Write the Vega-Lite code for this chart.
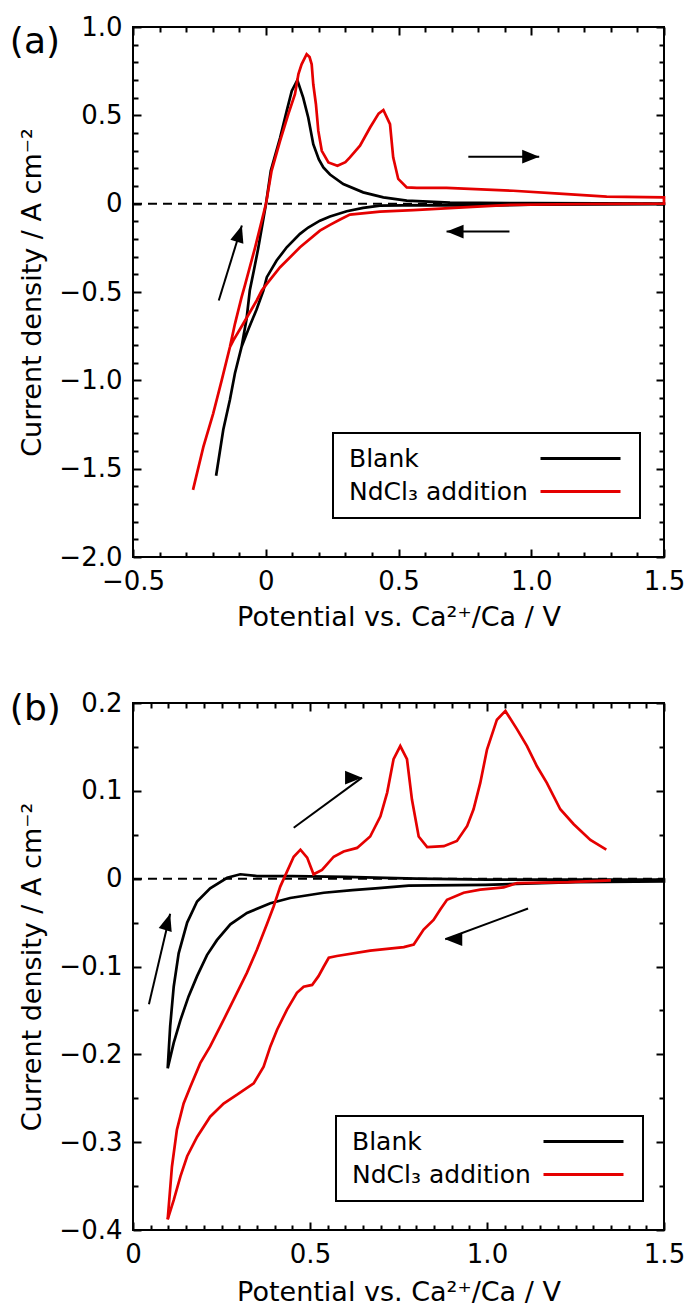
{
"$schema": "https://vega.github.io/schema/vega-lite/v6.json",
"padding": {"left": 8, "top": 13, "right": 5, "bottom": 5},
"spacing": 58,
"datasets": {
"a_curves": [
{"s":"Blank","p":1,"i":0,"x":-0.187,"y":-1.54},{"s":"Blank","p":1,"i":1,"x":-0.160,"y":-1.28},{"s":"Blank","p":1,"i":2,"x":-0.135,"y":-1.11},{"s":"Blank","p":1,"i":3,"x":-0.116,"y":-0.96},{"s":"Blank","p":1,"i":4,"x":-0.091,"y":-0.81},{"s":"Blank","p":1,"i":5,"x":-0.072,"y":-0.65},{"s":"Blank","p":1,"i":6,"x":-0.060,"y":-0.49},{"s":"Blank","p":1,"i":7,"x":-0.045,"y":-0.38},{"s":"Blank","p":1,"i":8,"x":-0.028,"y":-0.25},{"s":"Blank","p":1,"i":9,"x":0.001,"y":0.0},{"s":"Blank","p":1,"i":10,"x":0.019,"y":0.186},{"s":"Blank","p":1,"i":11,"x":0.054,"y":0.373},{"s":"Blank","p":1,"i":12,"x":0.079,"y":0.525},{"s":"Blank","p":1,"i":13,"x":0.098,"y":0.638},{"s":"Blank","p":1,"i":14,"x":0.119,"y":0.699},{"s":"Blank","p":1,"i":15,"x":0.141,"y":0.600},{"s":"Blank","p":1,"i":16,"x":0.160,"y":0.488},{"s":"Blank","p":1,"i":17,"x":0.179,"y":0.337},{"s":"Blank","p":1,"i":18,"x":0.200,"y":0.250},{"s":"Blank","p":1,"i":19,"x":0.217,"y":0.205},{"s":"Blank","p":1,"i":20,"x":0.242,"y":0.165},{"s":"Blank","p":1,"i":21,"x":0.292,"y":0.111},{"s":"Blank","p":1,"i":22,"x":0.367,"y":0.064},{"s":"Blank","p":1,"i":23,"x":0.443,"y":0.036},{"s":"Blank","p":1,"i":24,"x":0.531,"y":0.017},{"s":"Blank","p":1,"i":25,"x":0.694,"y":0.006},{"s":"Blank","p":1,"i":26,"x":1.0,"y":0.003},{"s":"Blank","p":1,"i":27,"x":1.5,"y":0.001},
{"s":"Blank","p":1,"i":28,"x":1.5,"y":-0.003},{"s":"Blank","p":1,"i":29,"x":1.0,"y":-0.006},{"s":"Blank","p":1,"i":30,"x":0.79,"y":-0.011},{"s":"Blank","p":1,"i":31,"x":0.6,"y":-0.008},{"s":"Blank","p":1,"i":32,"x":0.430,"y":-0.011},{"s":"Blank","p":1,"i":33,"x":0.367,"y":-0.024},{"s":"Blank","p":1,"i":34,"x":0.305,"y":-0.043},{"s":"Blank","p":1,"i":35,"x":0.242,"y":-0.073},{"s":"Blank","p":1,"i":36,"x":0.204,"y":-0.096},{"s":"Blank","p":1,"i":37,"x":0.160,"y":-0.135},{"s":"Blank","p":1,"i":38,"x":0.129,"y":-0.171},{"s":"Blank","p":1,"i":39,"x":0.079,"y":-0.247},{"s":"Blank","p":1,"i":40,"x":0.041,"y":-0.322},{"s":"Blank","p":1,"i":41,"x":0.004,"y":-0.416},{"s":"Blank","p":1,"i":42,"x":-0.009,"y":-0.492},{"s":"Blank","p":1,"i":43,"x":-0.035,"y":-0.60},{"s":"Blank","p":1,"i":44,"x":-0.065,"y":-0.71},{"s":"Blank","p":1,"i":45,"x":-0.091,"y":-0.81},{"s":"Blank","p":1,"i":46,"x":-0.116,"y":-0.96},{"s":"Blank","p":1,"i":47,"x":-0.135,"y":-1.11},{"s":"Blank","p":1,"i":48,"x":-0.160,"y":-1.28},{"s":"Blank","p":1,"i":49,"x":-0.187,"y":-1.54},
{"s":"NdCl₃ addition","p":1,"i":0,"x":-0.274,"y":-1.62},{"s":"NdCl₃ addition","p":1,"i":1,"x":-0.235,"y":-1.377},{"s":"NdCl₃ addition","p":1,"i":2,"x":-0.198,"y":-1.188},{"s":"NdCl₃ addition","p":1,"i":3,"x":-0.166,"y":-1.0},{"s":"NdCl₃ addition","p":1,"i":4,"x":-0.135,"y":-0.812},{"s":"NdCl₃ addition","p":1,"i":5,"x":-0.116,"y":-0.680},{"s":"NdCl₃ addition","p":1,"i":6,"x":-0.091,"y":-0.529},{"s":"NdCl₃ addition","p":1,"i":7,"x":-0.078,"y":-0.46},{"s":"NdCl₃ addition","p":1,"i":8,"x":-0.040,"y":-0.247},{"s":"NdCl₃ addition","p":1,"i":9,"x":0.001,"y":0.0},{"s":"NdCl₃ addition","p":1,"i":10,"x":0.022,"y":0.186},{"s":"NdCl₃ addition","p":1,"i":11,"x":0.054,"y":0.356},{"s":"NdCl₃ addition","p":1,"i":12,"x":0.085,"y":0.507},{"s":"NdCl₃ addition","p":1,"i":13,"x":0.110,"y":0.620},{"s":"NdCl₃ addition","p":1,"i":14,"x":0.123,"y":0.733},{"s":"NdCl₃ addition","p":1,"i":15,"x":0.135,"y":0.789},{"s":"NdCl₃ addition","p":1,"i":16,"x":0.154,"y":0.846},{"s":"NdCl₃ addition","p":1,"i":17,"x":0.165,"y":0.83},{"s":"NdCl₃ addition","p":1,"i":18,"x":0.173,"y":0.789},{"s":"NdCl₃ addition","p":1,"i":19,"x":0.179,"y":0.676},{"s":"NdCl₃ addition","p":1,"i":20,"x":0.189,"y":0.563},{"s":"NdCl₃ addition","p":1,"i":21,"x":0.198,"y":0.412},{"s":"NdCl₃ addition","p":1,"i":22,"x":0.211,"y":0.299},{"s":"NdCl₃ addition","p":1,"i":23,"x":0.236,"y":0.233},{"s":"NdCl₃ addition","p":1,"i":24,"x":0.270,"y":0.215},{"s":"NdCl₃ addition","p":1,"i":25,"x":0.300,"y":0.235},{"s":"NdCl₃ addition","p":1,"i":26,"x":0.317,"y":0.262},{"s":"NdCl₃ addition","p":1,"i":27,"x":0.355,"y":0.328},{"s":"NdCl₃ addition","p":1,"i":28,"x":0.393,"y":0.431},{"s":"NdCl₃ addition","p":1,"i":29,"x":0.425,"y":0.51},{"s":"NdCl₃ addition","p":1,"i":30,"x":0.443,"y":0.53},{"s":"NdCl₃ addition","p":1,"i":31,"x":0.468,"y":0.450},{"s":"NdCl₃ addition","p":1,"i":32,"x":0.480,"y":0.262},{"s":"NdCl₃ addition","p":1,"i":33,"x":0.499,"y":0.140},{"s":"NdCl₃ addition","p":1,"i":34,"x":0.531,"y":0.092},{"s":"NdCl₃ addition","p":1,"i":35,"x":0.569,"y":0.089},{"s":"NdCl₃ addition","p":1,"i":36,"x":0.681,"y":0.089},{"s":"NdCl₃ addition","p":1,"i":37,"x":0.932,"y":0.073},{"s":"NdCl₃ addition","p":1,"i":38,"x":1.12,"y":0.055},{"s":"NdCl₃ addition","p":1,"i":39,"x":1.284,"y":0.040},{"s":"NdCl₃ addition","p":1,"i":40,"x":1.5,"y":0.036},
{"s":"NdCl₃ addition","p":1,"i":41,"x":1.5,"y":0.0},{"s":"NdCl₃ addition","p":1,"i":42,"x":1.2,"y":-0.002},{"s":"NdCl₃ addition","p":1,"i":43,"x":0.920,"y":-0.007},{"s":"NdCl₃ addition","p":1,"i":44,"x":0.744,"y":-0.021},{"s":"NdCl₃ addition","p":1,"i":45,"x":0.556,"y":-0.036},{"s":"NdCl₃ addition","p":1,"i":46,"x":0.430,"y":-0.045},{"s":"NdCl₃ addition","p":1,"i":47,"x":0.317,"y":-0.062},{"s":"NdCl₃ addition","p":1,"i":48,"x":0.280,"y":-0.090},{"s":"NdCl₃ addition","p":1,"i":49,"x":0.242,"y":-0.120},{"s":"NdCl₃ addition","p":1,"i":50,"x":0.204,"y":-0.153},{"s":"NdCl₃ addition","p":1,"i":51,"x":0.129,"y":-0.247},{"s":"NdCl₃ addition","p":1,"i":52,"x":0.054,"y":-0.360},{"s":"NdCl₃ addition","p":1,"i":53,"x":0.004,"y":-0.454},{"s":"NdCl₃ addition","p":1,"i":54,"x":-0.015,"y":-0.492},{"s":"NdCl₃ addition","p":1,"i":55,"x":-0.034,"y":-0.548},{"s":"NdCl₃ addition","p":1,"i":56,"x":-0.085,"y":-0.680},{"s":"NdCl₃ addition","p":1,"i":57,"x":-0.122,"y":-0.774},{"s":"NdCl₃ addition","p":1,"i":58,"x":-0.135,"y":-0.812},{"s":"NdCl₃ addition","p":1,"i":59,"x":-0.166,"y":-1.0},{"s":"NdCl₃ addition","p":1,"i":60,"x":-0.198,"y":-1.188},{"s":"NdCl₃ addition","p":1,"i":61,"x":-0.235,"y":-1.377},{"s":"NdCl₃ addition","p":1,"i":62,"x":-0.274,"y":-1.62}
],
"b_curves": [
{"s":"Blank","p":1,"i":0,"x":0.098,"y":-0.216},{"s":"Blank","p":1,"i":1,"x":0.105,"y":-0.168},{"s":"Blank","p":1,"i":2,"x":0.115,"y":-0.123},{"s":"Blank","p":1,"i":3,"x":0.129,"y":-0.085},{"s":"Blank","p":1,"i":4,"x":0.153,"y":-0.050},{"s":"Blank","p":1,"i":5,"x":0.181,"y":-0.026},{"s":"Blank","p":1,"i":6,"x":0.218,"y":-0.011},{"s":"Blank","p":1,"i":7,"x":0.266,"y":0.001},{"s":"Blank","p":1,"i":8,"x":0.303,"y":0.005},{"s":"Blank","p":1,"i":9,"x":0.350,"y":0.003},{"s":"Blank","p":1,"i":10,"x":0.45,"y":0.003},{"s":"Blank","p":1,"i":11,"x":0.6,"y":0.002},{"s":"Blank","p":1,"i":12,"x":0.8,"y":0.0},{"s":"Blank","p":1,"i":13,"x":1.0,"y":-0.001},{"s":"Blank","p":1,"i":14,"x":1.5,"y":-0.001},
{"s":"Blank","p":1,"i":15,"x":1.5,"y":-0.003},{"s":"Blank","p":1,"i":16,"x":1.25,"y":-0.004},{"s":"Blank","p":1,"i":17,"x":0.995,"y":-0.007},{"s":"Blank","p":1,"i":18,"x":0.779,"y":-0.008},{"s":"Blank","p":1,"i":19,"x":0.685,"y":-0.011},{"s":"Blank","p":1,"i":20,"x":0.62,"y":-0.013},{"s":"Blank","p":1,"i":21,"x":0.539,"y":-0.016},{"s":"Blank","p":1,"i":22,"x":0.444,"y":-0.022},{"s":"Blank","p":1,"i":23,"x":0.388,"y":-0.028},{"s":"Blank","p":1,"i":24,"x":0.322,"y":-0.039},{"s":"Blank","p":1,"i":25,"x":0.275,"y":-0.052},{"s":"Blank","p":1,"i":26,"x":0.237,"y":-0.070},{"s":"Blank","p":1,"i":27,"x":0.209,"y":-0.087},{"s":"Blank","p":1,"i":28,"x":0.181,"y":-0.111},{"s":"Blank","p":1,"i":29,"x":0.157,"y":-0.134},{"s":"Blank","p":1,"i":30,"x":0.134,"y":-0.161},{"s":"Blank","p":1,"i":31,"x":0.115,"y":-0.187},{"s":"Blank","p":1,"i":32,"x":0.098,"y":-0.216},
{"s":"NdCl₃ addition","p":1,"i":0,"x":0.098,"y":-0.388},{"s":"NdCl₃ addition","p":1,"i":1,"x":0.110,"y":-0.328},{"s":"NdCl₃ addition","p":1,"i":2,"x":0.124,"y":-0.286},{"s":"NdCl₃ addition","p":1,"i":3,"x":0.143,"y":-0.256},{"s":"NdCl₃ addition","p":1,"i":4,"x":0.162,"y":-0.237},{"s":"NdCl₃ addition","p":1,"i":5,"x":0.190,"y":-0.210},{"s":"NdCl₃ addition","p":1,"i":6,"x":0.218,"y":-0.191},{"s":"NdCl₃ addition","p":1,"i":7,"x":0.247,"y":-0.168},{"s":"NdCl₃ addition","p":1,"i":8,"x":0.284,"y":-0.138},{"s":"NdCl₃ addition","p":1,"i":9,"x":0.322,"y":-0.107},{"s":"NdCl₃ addition","p":1,"i":10,"x":0.350,"y":-0.081},{"s":"NdCl₃ addition","p":1,"i":11,"x":0.379,"y":-0.051},{"s":"NdCl₃ addition","p":1,"i":12,"x":0.397,"y":-0.032},{"s":"NdCl₃ addition","p":1,"i":13,"x":0.416,"y":-0.009},{"s":"NdCl₃ addition","p":1,"i":14,"x":0.435,"y":0.008},{"s":"NdCl₃ addition","p":1,"i":15,"x":0.454,"y":0.025},{"s":"NdCl₃ addition","p":1,"i":16,"x":0.473,"y":0.033},{"s":"NdCl₃ addition","p":1,"i":17,"x":0.492,"y":0.024},{"s":"NdCl₃ addition","p":1,"i":18,"x":0.510,"y":0.005},{"s":"NdCl₃ addition","p":1,"i":19,"x":0.534,"y":0.010},{"s":"NdCl₃ addition","p":1,"i":20,"x":0.567,"y":0.025},{"s":"NdCl₃ addition","p":1,"i":21,"x":0.595,"y":0.031},{"s":"NdCl₃ addition","p":1,"i":22,"x":0.633,"y":0.035},{"s":"NdCl₃ addition","p":1,"i":23,"x":0.670,"y":0.048},{"s":"NdCl₃ addition","p":1,"i":24,"x":0.699,"y":0.071},{"s":"NdCl₃ addition","p":1,"i":25,"x":0.718,"y":0.098},{"s":"NdCl₃ addition","p":1,"i":26,"x":0.736,"y":0.136},{"s":"NdCl₃ addition","p":1,"i":27,"x":0.755,"y":0.151},{"s":"NdCl₃ addition","p":1,"i":28,"x":0.774,"y":0.136},{"s":"NdCl₃ addition","p":1,"i":29,"x":0.788,"y":0.090},{"s":"NdCl₃ addition","p":1,"i":30,"x":0.807,"y":0.048},{"s":"NdCl₃ addition","p":1,"i":31,"x":0.831,"y":0.036},{"s":"NdCl₃ addition","p":1,"i":32,"x":0.878,"y":0.037},{"s":"NdCl₃ addition","p":1,"i":33,"x":0.915,"y":0.043},{"s":"NdCl₃ addition","p":1,"i":34,"x":0.944,"y":0.060},{"s":"NdCl₃ addition","p":1,"i":35,"x":0.962,"y":0.079},{"s":"NdCl₃ addition","p":1,"i":36,"x":0.981,"y":0.109},{"s":"NdCl₃ addition","p":1,"i":37,"x":1.0,"y":0.147},{"s":"NdCl₃ addition","p":1,"i":38,"x":1.028,"y":0.181},{"s":"NdCl₃ addition","p":1,"i":39,"x":1.052,"y":0.191},{"s":"NdCl₃ addition","p":1,"i":40,"x":1.085,"y":0.170},{"s":"NdCl₃ addition","p":1,"i":41,"x":1.113,"y":0.151},{"s":"NdCl₃ addition","p":1,"i":42,"x":1.141,"y":0.128},{"s":"NdCl₃ addition","p":1,"i":43,"x":1.169,"y":0.109},{"s":"NdCl₃ addition","p":1,"i":44,"x":1.207,"y":0.079},{"s":"NdCl₃ addition","p":1,"i":45,"x":1.245,"y":0.062},{"s":"NdCl₃ addition","p":1,"i":46,"x":1.292,"y":0.044},{"s":"NdCl₃ addition","p":1,"i":47,"x":1.337,"y":0.033},
{"s":"NdCl₃ addition","p":2,"i":48,"x":1.35,"y":-0.002},{"s":"NdCl₃ addition","p":2,"i":49,"x":1.23,"y":-0.004},{"s":"NdCl₃ addition","p":2,"i":50,"x":1.085,"y":-0.005},{"s":"NdCl₃ addition","p":2,"i":51,"x":1.047,"y":-0.010},{"s":"NdCl₃ addition","p":2,"i":52,"x":0.981,"y":-0.0125},{"s":"NdCl₃ addition","p":2,"i":53,"x":0.934,"y":-0.016},{"s":"NdCl₃ addition","p":2,"i":54,"x":0.887,"y":-0.024},{"s":"NdCl₃ addition","p":2,"i":55,"x":0.868,"y":-0.035},{"s":"NdCl₃ addition","p":2,"i":56,"x":0.849,"y":-0.047},{"s":"NdCl₃ addition","p":2,"i":57,"x":0.821,"y":-0.058},{"s":"NdCl₃ addition","p":2,"i":58,"x":0.793,"y":-0.075},{"s":"NdCl₃ addition","p":2,"i":59,"x":0.765,"y":-0.078},{"s":"NdCl₃ addition","p":2,"i":60,"x":0.670,"y":-0.082},{"s":"NdCl₃ addition","p":2,"i":61,"x":0.576,"y":-0.088},{"s":"NdCl₃ addition","p":2,"i":62,"x":0.553,"y":-0.090},{"s":"NdCl₃ addition","p":2,"i":63,"x":0.539,"y":-0.100},{"s":"NdCl₃ addition","p":2,"i":64,"x":0.524,"y":-0.111},{"s":"NdCl₃ addition","p":2,"i":65,"x":0.506,"y":-0.121},{"s":"NdCl₃ addition","p":2,"i":66,"x":0.482,"y":-0.123},{"s":"NdCl₃ addition","p":2,"i":67,"x":0.463,"y":-0.130},{"s":"NdCl₃ addition","p":2,"i":68,"x":0.435,"y":-0.149},{"s":"NdCl₃ addition","p":2,"i":69,"x":0.407,"y":-0.172},{"s":"NdCl₃ addition","p":2,"i":70,"x":0.388,"y":-0.191},{"s":"NdCl₃ addition","p":2,"i":71,"x":0.369,"y":-0.214},{"s":"NdCl₃ addition","p":2,"i":72,"x":0.341,"y":-0.233},{"s":"NdCl₃ addition","p":2,"i":73,"x":0.294,"y":-0.246},{"s":"NdCl₃ addition","p":2,"i":74,"x":0.256,"y":-0.256},{"s":"NdCl₃ addition","p":2,"i":75,"x":0.218,"y":-0.271},{"s":"NdCl₃ addition","p":2,"i":76,"x":0.181,"y":-0.294},{"s":"NdCl₃ addition","p":2,"i":77,"x":0.153,"y":-0.316},{"s":"NdCl₃ addition","p":2,"i":78,"x":0.134,"y":-0.339},{"s":"NdCl₃ addition","p":2,"i":79,"x":0.115,"y":-0.366},{"s":"NdCl₃ addition","p":2,"i":80,"x":0.098,"y":-0.388}
],
"a_arrows": [
{"id":"a1","x":-0.177,"y":-0.548,"x2":-0.090,"y2":-0.124},
{"id":"a2","x":0.763,"y":0.266,"x2":1.03,"y2":0.266},
{"id":"a3","x":0.918,"y":-0.158,"x2":0.681,"y2":-0.158}
],
"b_arrows": [
{"id":"b1","x":0.045,"y":-0.143,"x2":0.105,"y2":-0.040},
{"id":"b2","x":0.454,"y":0.058,"x2":0.647,"y2":0.115},
{"id":"b3","x":1.116,"y":-0.034,"x2":0.882,"y2":-0.069}
]
},
"resolve": {"scale": {"color": "independent"}, "legend": {"color": "independent"}},
"vconcat": [
{
"title": {"text": "(a)", "anchor": "start", "frame": "bounds", "fontSize": 36, "fontWeight": "normal", "offset": -47, "dx": -9},
"width": 531, "height": 530,
"layer": [
{
"data": {"values": [{}]},
"mark": {"type": "rule", "strokeDash": [9, 6], "strokeWidth": 2, "color": "black"},
"encoding": {
"x": {"datum": -0.5, "type": "quantitative", "scale": {"domain": [-0.5, 1.5], "nice": false, "zero": false},
"axis": {"orient": "top", "values": [-0.4,-0.3,-0.2,-0.1,0.1,0.2,0.3,0.4,0.6,0.7,0.8,0.9,1.1,1.2,1.3,1.4], "offset": -5, "tickSize": 5, "labels": false, "title": null}},
"x2": {"datum": 1.5},
"y": {"datum": 0, "type": "quantitative", "scale": {"domain": [-2, 1], "nice": false, "zero": false},
"axis": {"orient": "right", "values": [-1.9,-1.8,-1.7,-1.6,-1.4,-1.3,-1.2,-1.1,-0.9,-0.8,-0.7,-0.6,-0.4,-0.3,-0.2,-0.1,0.1,0.2,0.3,0.4,0.6,0.7,0.8,0.9], "offset": -5, "tickSize": 5, "labels": false, "title": null}}
}
},
{
"data": {"name": "a_curves"},
"mark": {"type": "line", "strokeWidth": 2.7},
"encoding": {
"x": {"field": "x", "type": "quantitative", "scale": {"domain": [-0.5, 1.5], "nice": false, "zero": false},
"axis": {"orient": "bottom", "values": [-0.5, 0, 0.5, 1, 1.5], "offset": -8, "tickSize": 8, "labelPadding": 11, "labelExpr": "datum.value == 0 ? '0' : format(datum.value, '.1f')", "title": "Potential vs. Ca²⁺/Ca / V", "titlePadding": 10}},
"y": {"field": "y", "type": "quantitative", "scale": {"domain": [-2, 1], "nice": false, "zero": false},
"axis": {"orient": "left", "values": [-2, -1.5, -1, -0.5, 0, 0.5, 1], "offset": -8, "tickSize": 8, "labelPadding": 11, "labelExpr": "datum.value == 0 ? '0' : format(datum.value, '.1f')", "title": "Current density / A cm⁻²", "titlePadding": 12}},
"color": {"field": "s", "type": "nominal", "scale": {"domain": ["Blank", "NdCl₃ addition"], "range": ["black", "#e50000"]},
"legend": {"orient": "none", "legendX": 200, "legendY": 406}},
"detail": {"field": "p", "type": "nominal"},
"order": {"field": "i", "type": "quantitative"}
}
},
{
"data": {"name": "a_arrows"},
"mark": {"type": "rule", "strokeWidth": 2, "color": "black"},
"encoding": {
"x": {"field": "x", "type": "quantitative", "scale": {"domain": [-0.5, 1.5], "nice": false, "zero": false},
"axis": {"orient": "bottom", "values": [-0.4,-0.3,-0.2,-0.1,0.1,0.2,0.3,0.4,0.6,0.7,0.8,0.9,1.1,1.2,1.3,1.4], "offset": -5, "tickSize": 5, "labels": false, "title": null}},
"x2": {"field": "x2"},
"y": {"field": "y", "type": "quantitative", "scale": {"domain": [-2, 1], "nice": false, "zero": false},
"axis": {"orient": "left", "values": [-1.9,-1.8,-1.7,-1.6,-1.4,-1.3,-1.2,-1.1,-0.9,-0.8,-0.7,-0.6,-0.4,-0.3,-0.2,-0.1,0.1,0.2,0.3,0.4,0.6,0.7,0.8,0.9], "offset": -5, "tickSize": 5, "labels": false, "title": null}},
"y2": {"field": "y2"}
}
},
{
"data": {"name": "a_arrows"},
"mark": {"type": "point", "shape": "M0,0L0.8,2L-0.8,2Z", "filled": true, "color": "black", "opacity": 1, "size": 289, "strokeWidth": 0},
"encoding": {
"x": {"field": "x2", "type": "quantitative", "scale": {"domain": [-0.5, 1.5], "nice": false, "zero": false},
"axis": {"orient": "top", "values": [-0.5, 0, 0.5, 1, 1.5], "offset": -8, "tickSize": 8, "labels": false, "title": null}},
"y": {"field": "y2", "type": "quantitative", "scale": {"domain": [-2, 1], "nice": false, "zero": false},
"axis": {"orient": "right", "values": [-2, -1.5, -1, -0.5, 0, 0.5, 1], "offset": -8, "tickSize": 8, "labels": false, "title": null}},
"angle": {"field": "id", "type": "nominal", "scale": {"type": "ordinal", "domain": ["a1", "a2", "a3"], "range": [17, 90, 270]}, "legend": null}
}
}
],
"resolve": {"axis": {"x": "independent", "y": "independent"}}
},
{
"title": {"text": "(b)", "anchor": "start", "frame": "bounds", "fontSize": 36, "fontWeight": "normal", "offset": -38, "dx": -9},
"width": 531, "height": 527,
"layer": [
{
"data": {"values": [{}]},
"mark": {"type": "rule", "strokeDash": [9, 6], "strokeWidth": 2, "color": "black"},
"encoding": {
"x": {"datum": 0, "type": "quantitative", "scale": {"domain": [0, 1.5], "nice": false, "zero": false},
"axis": {"orient": "top", "values": [0.05,0.1,0.15,0.2,0.25,0.3,0.35,0.4,0.45,0.55,0.6,0.65,0.7,0.75,0.8,0.85,0.9,0.95,1.05,1.1,1.15,1.2,1.25,1.3,1.35,1.4,1.45], "offset": -5, "tickSize": 5, "labels": false, "title": null}},
"x2": {"datum": 1.5},
"y": {"datum": 0, "type": "quantitative", "scale": {"domain": [-0.4, 0.2], "nice": false, "zero": false},
"axis": {"orient": "right", "values": [-0.35,-0.25,-0.15,-0.05,0.05,0.15], "offset": -5, "tickSize": 5, "labels": false, "title": null}}
}
},
{
"data": {"name": "b_curves"},
"mark": {"type": "line", "strokeWidth": 2.7},
"encoding": {
"x": {"field": "x", "type": "quantitative", "scale": {"domain": [0, 1.5], "nice": false, "zero": false},
"axis": {"orient": "bottom", "values": [0, 0.5, 1, 1.5], "offset": -8, "tickSize": 8, "labelPadding": 11, "labelExpr": "datum.value == 0 ? '0' : format(datum.value, '.1f')", "title": "Potential vs. Ca²⁺/Ca / V", "titlePadding": 12}},
"y": {"field": "y", "type": "quantitative", "scale": {"domain": [-0.4, 0.2], "nice": false, "zero": false},
"axis": {"orient": "left", "values": [-0.4, -0.3, -0.2, -0.1, 0, 0.1, 0.2], "offset": -8, "tickSize": 8, "labelPadding": 11, "labelExpr": "datum.value == 0 ? '0' : format(datum.value, '.1f')", "title": "Current density / A cm⁻²", "titlePadding": 12}},
"color": {"field": "s", "type": "nominal", "scale": {"domain": ["Blank", "NdCl₃ addition"], "range": ["black", "#e50000"]},
"legend": {"orient": "none", "legendX": 203, "legendY": 413}},
"detail": {"field": "p", "type": "nominal"},
"order": {"field": "i", "type": "quantitative"}
}
},
{
"data": {"name": "b_arrows"},
"mark": {"type": "rule", "strokeWidth": 2, "color": "black"},
"encoding": {
"x": {"field": "x", "type": "quantitative", "scale": {"domain": [0, 1.5], "nice": false, "zero": false},
"axis": {"orient": "bottom", "values": [0.05,0.1,0.15,0.2,0.25,0.3,0.35,0.4,0.45,0.55,0.6,0.65,0.7,0.75,0.8,0.85,0.9,0.95,1.05,1.1,1.15,1.2,1.25,1.3,1.35,1.4,1.45], "offset": -5, "tickSize": 5, "labels": false, "title": null}},
"x2": {"field": "x2"},
"y": {"field": "y", "type": "quantitative", "scale": {"domain": [-0.4, 0.2], "nice": false, "zero": false},
"axis": {"orient": "left", "values": [-0.35,-0.25,-0.15,-0.05,0.05,0.15], "offset": -5, "tickSize": 5, "labels": false, "title": null}},
"y2": {"field": "y2"}
}
},
{
"data": {"name": "b_arrows"},
"mark": {"type": "point", "shape": "M0,0L0.8,2L-0.8,2Z", "filled": true, "color": "black", "opacity": 1, "size": 289, "strokeWidth": 0},
"encoding": {
"x": {"field": "x2", "type": "quantitative", "scale": {"domain": [0, 1.5], "nice": false, "zero": false},
"axis": {"orient": "top", "values": [0, 0.5, 1, 1.5], "offset": -8, "tickSize": 8, "labels": false, "title": null}},
"y": {"field": "y2", "type": "quantitative", "scale": {"domain": [-0.4, 0.2], "nice": false, "zero": false},
"axis": {"orient": "right", "values": [-0.4, -0.3, -0.2, -0.1, 0, 0.1, 0.2], "offset": -8, "tickSize": 8, "labels": false, "title": null}},
"angle": {"field": "id", "type": "nominal", "scale": {"type": "ordinal", "domain": ["b1", "b2", "b3"], "range": [13, 54, 250]}, "legend": null}
}
}
],
"resolve": {"axis": {"x": "independent", "y": "independent"}}
}
],
"config": {
"font": "DejaVu Sans",
"view": {"stroke": "black", "strokeWidth": 2},
"axis": {"domain": false, "grid": false, "tickColor": "black", "tickWidth": 2, "labelColor": "black", "titleColor": "black", "labelFontSize": 26, "titleFontSize": 27, "titleFontWeight": "normal", "labelFlush": false, "labelOverlap": false},
"legend": {"title": null, "direction": "vertical", "symbolType": "M-8,0H8", "symbolSize": 100, "symbolStrokeWidth": 3, "labelFontSize": 25, "labelColor": "black", "labelAlign": "left", "labelOffset": -244, "symbolOffset": 222, "labelLimit": 400, "strokeColor": "black", "strokeWidth": 2, "padding": 13, "rowPadding": 7, "symbolOpacity": 1},
"title": {"color": "black"}
}
}
